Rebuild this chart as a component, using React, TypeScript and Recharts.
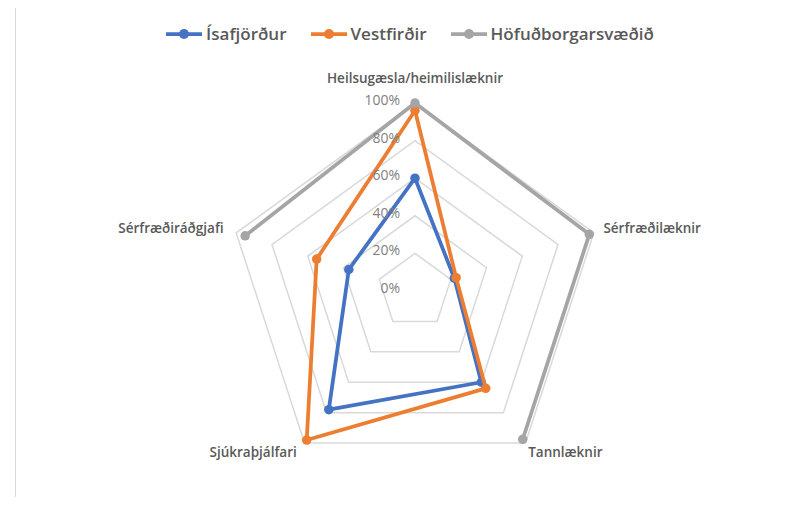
import React from 'react';
import { RadarChart, Radar, PolarGrid, PolarAngleAxis, PolarRadiusAxis } from 'recharts';

// Categories in drawing order (starting at bottom-left, clockwise)
const categories = ['Sjúkraþjálfari', 'Sérfræðiráðgjafi', 'Heilsugæsla/heimilislæknir', 'Sérfræðilæknir', 'Tannlæknir'];
const isafjordur = [0.78, 0.37, 0.6, 0.22, 0.6];
const vestfirdir = [0.98, 0.55, 0.96, 0.23, 0.64];
const hofudborg: (number | null)[] = [null, 0.95, 1.0, 0.975, 0.975];
const radiusTicks = [0, 0.2, 0.4, 0.6, 0.8, 1.0];

const seriesNames = ['Ísafjörður', 'Vestfirðir', 'Höfuðborgarsvæðið'];
const seriesKeys = ['isa', 'vest', 'hof'];
const seriesColors = ['#4472C4', '#ED7D31', '#A5A5A5'];

const data = categories.map((c, i) => ({
  cat: c,
  isa: isafjordur[i],
  vest: vestfirdir[i],
  hof: hofudborg[i],
}));

const FONT = '"Open Sans", Lato, sans-serif';

const labelPlacement: Record<string, { dx: number; dy: number; anchor: 'start' | 'middle' | 'end' }> = {
  'Heilsugæsla/heimilislæknir': { dx: 0, dy: -12, anchor: 'middle' },
  'Sérfræðilæknir': { dx: 2, dy: 3, anchor: 'start' },
  'Tannlæknir': { dx: -2, dy: 7, anchor: 'start' },
  'Sjúkraþjálfari': { dx: -3, dy: 7, anchor: 'end' },
  'Sérfræðiráðgjafi': { dx: -5, dy: 3, anchor: 'end' },
};

const AngleTick = (props: any) => {
  const { x, y, payload } = props;
  const p = labelPlacement[payload.value] || { dx: 0, dy: 0, anchor: 'middle' };
  return (
    <text x={x + p.dx} y={y + p.dy} textAnchor={p.anchor} fontFamily={FONT} fontSize={13.5} fontWeight={600} fill="#595959">
      {payload.value}
    </text>
  );
};

const RadiusTick = (props: any) => {
  const { x, y, payload } = props;
  return (
    <text x={x - 15} y={y + 2} textAnchor="end" fontFamily={FONT} fontSize={14} fill="#808080">
      {`${Math.round(payload.value * 100)}%`}
    </text>
  );
};

const makeShape = (key: string, color: string) => (props: any) => {
  const pts: any[] = props.points || [];
  const segs: any[][] = [];
  let cur: any[] = [];
  pts.forEach((p) => {
    const v = p.payload ? p.payload[key] : p.value;
    if (v === null || v === undefined || !isFinite(p.x) || !isFinite(p.y)) {
      if (cur.length) segs.push(cur);
      cur = [];
    } else {
      cur.push(p);
    }
  });
  if (cur.length) segs.push(cur);
  const closed = segs.length === 1 && segs[0].length === pts.length;
  const d = segs
    .map((s) => s.map((p, i) => `${i === 0 ? 'M' : 'L'}${p.x},${p.y}`).join(''))
    .join('') + (closed ? 'Z' : '');
  return (
    <g>
      <path d={d} fill="none" stroke={color} strokeWidth={3.75} strokeLinejoin="round" />
      {segs.flat().map((p, i) => (
        <circle key={i} cx={p.x} cy={p.y} r={4.75} fill={color} />
      ))}
    </g>
  );
};

export default function App() {
  return (
    <div style={{ position: 'relative', width: 795, height: 505, margin: -8, background: '#fff', overflow: 'hidden' }}>
      <div style={{ position: 'absolute', left: 15, top: 7, width: 800, height: 600, borderLeft: '1px solid #d9d9d9', borderTop: '1px solid #d9d9d9' }} />
      <div style={{ position: 'absolute', left: 0, top: 0 }}>
        <RadarChart
          width={795}
          height={505}
          data={data}
          cx={415}
          cy={291}
          outerRadius={188}
          startAngle={-126}
          endAngle={-486}
          margin={{ top: 0, right: 0, bottom: 0, left: 0 }}
        >
          <PolarGrid gridType="polygon" radialLines={false} stroke="#d9d9d9" strokeWidth={1.5} />
          <PolarAngleAxis dataKey="cat" tick={<AngleTick />} tickLine={false} axisLine={false} />
          <PolarRadiusAxis
            angle={90}
            domain={[0, 1]}
            ticks={radiusTicks as any}
            tickCount={6}
            axisLine={false}
            tickLine={false}
            tick={<RadiusTick />}
          />
          {seriesKeys.map((k, i) => (
            <Radar
              key={k}
              name={seriesNames[i]}
              dataKey={k}
              stroke={seriesColors[i]}
              fill="none"
              dot={false}
              isAnimationActive={false}
              shape={makeShape(k, seriesColors[i])}
            />
          ))}
        </RadarChart>
      </div>
      <div style={{ position: 'absolute', top: 22, left: 0, width: 844, display: 'flex', justifyContent: 'center', fontFamily: FONT, fontSize: 17, fontWeight: 600, color: '#595959' }}>
        {seriesNames.map((n, i) => (
          <div key={n} style={{ display: 'flex', alignItems: 'center', marginRight: 24 }}>
            <svg width={36} height={12} style={{ marginRight: 4 }}>
              <line x1={0} y1={6} x2={36} y2={6} stroke={seriesColors[i]} strokeWidth={3.75} />
              <circle cx={18} cy={6} r={5} fill={seriesColors[i]} />
            </svg>
            <span>{n}</span>
          </div>
        ))}
      </div>
    </div>
  );
}
